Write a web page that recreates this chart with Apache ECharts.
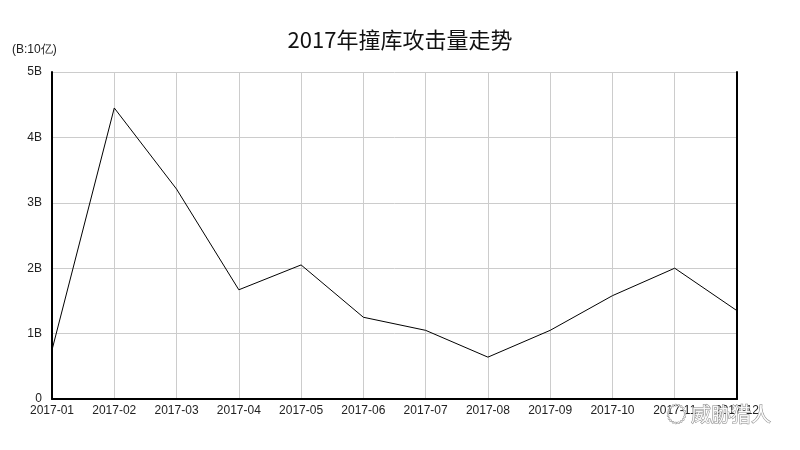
<!DOCTYPE html>
<html>
<head>
<meta charset="utf-8">
<script src="https://cdn.jsdelivr.net/npm/echarts@6/dist/echarts.min.js"></script>
<style>html,body{margin:0;padding:0;background:#fff}#c{width:800px;height:450px}</style>
</head>
<body>
<div id="c"></div>
<script>
var categories = ['2017-01','2017-02','2017-03','2017-04','2017-05','2017-06','2017-07','2017-08','2017-09','2017-10','2017-11','2017-12'];
var values = [0.75, 4.45, 3.21, 1.67, 2.05, 1.25, 1.05, 0.64, 1.05, 1.58, 2.0, 1.35];
var yTicks = ['0','1B','2B','3B','4B','5B'];

var chart = echarts.init(document.getElementById('c'));
chart.setOption({
  animation: false,
  backgroundColor: '#fff',
  title: {
    text: '2017年撞库攻击量走势',
    left: 'center',
    top: 24,
    textStyle: {fontFamily: 'Noto Sans CJK SC', fontSize: 22, fontWeight: 'normal', color: '#111'}
  },
  grid: {left: 52, right: 63, top: 72, bottom: 51},
  xAxis: {
    type: 'category',
    data: categories,
    boundaryGap: false,
    axisLine: {lineStyle: {color: '#000', width: 2}},
    axisTick: {show: false},
    axisLabel: {color: '#222', fontFamily: 'Liberation Sans', fontSize: 12, margin: 6, interval: 0},
    splitLine: {show: true, lineStyle: {color: '#ccc', width: 1}}
  },
  yAxis: [{
    type: 'value',
    min: 0, max: 5, interval: 1,
    name: '(B:10亿)',
    nameLocation: 'end',
    nameGap: 16,
    nameTextStyle: {color: '#222', fontFamily: 'Liberation Sans', fontSize: 12, align: 'left', padding: [0, 0, 0, -40]},
    axisLine: {show: true, lineStyle: {color: '#000', width: 2}},
    axisTick: {show: false},
    axisLabel: {color: '#222', fontFamily: 'Liberation Sans', fontSize: 12, margin: 10,
      formatter: function (v) { return yTicks[Math.round(v)]; }},
    splitLine: {show: true, lineStyle: {color: '#ccc', width: 1}}
  }, {
    type: 'value',
    position: 'right',
    min: 0, max: 5, interval: 1,
    axisLine: {show: true, lineStyle: {color: '#000', width: 2}},
    axisTick: {show: false},
    axisLabel: {show: false},
    splitLine: {show: false}
  }],
  series: [{
    type: 'line',
    data: values,
    symbol: 'none',
    lineStyle: {color: '#000', width: 1}
  }],
  graphic: [{
    type: 'text',
    left: 666, top: 404,
    z: 100,
    style: {text: '◌ 威胁猎人', fill: 'rgba(255,255,255,0.9)', stroke: '#888', lineWidth: 1,
      font: '20px "Noto Sans CJK SC"'}
  }]
});
</script>
</body>
</html>
